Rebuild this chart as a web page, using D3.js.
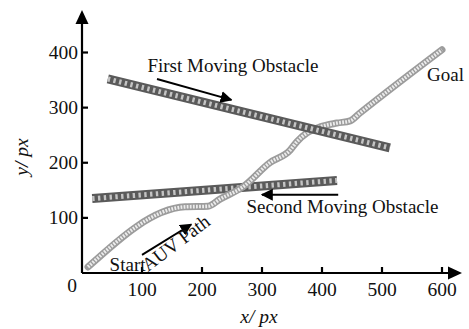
<!DOCTYPE html>
<html>
<head>
<meta charset="utf-8">
<script src="https://cdn.jsdelivr.net/npm/d3@7"></script>
<style>
  html, body { margin: 0; padding: 0; background: #fff; }
  svg text { font-family: 'Liberation Serif', 'DejaVu Serif', serif; fill: #111; }
</style>
</head>
<body>
<svg id="chart" width="469" height="329"></svg>
<script>
// tick values
const xTicks = [100, 200, 300, 400, 500, 600]
const yTicks = [100, 200, 300, 400]

// AUV path (x, y in px units)
const auvPath = [
  [10, 11], [172, 120], [210, 121], [230, 134], [268, 156], [313, 200],
  [347, 223], [358, 238], [375, 254], [397, 265], [425, 272], [447, 276],
  [463, 290], [600, 405]
]

// obstacle tracks, start -> end
const firstObstacle = [[43, 352], [513, 227]]
const secondObstacle = [[17, 135], [425, 168]]

// annotation arrows (from, to)
const arrows = [
  [[125, 352], [249, 314]],
  [[427, 142], [300, 142]],
  [[100, 33], [182, 88]]
]

// text labels
const labels = [
  { text: 'First Moving Obstacle', x: 109, y: 364, rot: 0 },
  { text: 'Goal', x: 575, y: 349, rot: 0 },
  { text: 'Second Moving Obstacle', x: 274, y: 108, rot: 0 },
  { text: 'Start', x: 46, y: 4, rot: 0 },
  { text: 'AUV Path', x: 110, y: 2, rot: -37 }
]

const svg = d3.select('#chart')

const x = d3.scaleLinear().domain([0, 600]).range([82, 442])
const y = d3.scaleLinear().domain([0, 400]).range([273, 52.5])

const defs = svg.append('defs')
defs.append('marker')
  .attr('id', 'arrowHead')
  .attr('viewBox', '0 0 10 10')
  .attr('refX', 9)
  .attr('refY', 5)
  .attr('markerWidth', 6)
  .attr('markerHeight', 6)
  .attr('markerUnits', 'strokeWidth')
  .attr('orient', 'auto')
  .append('path')
  .attr('d', 'M0,0 L10,5 L0,10 Z')
  .attr('fill', '#000')

const line = d3.line().x((d) => x(d[0])).y((d) => y(d[1]))
const smooth = d3.line().x((d) => x(d[0])).y((d) => y(d[1])).curve(d3.curveMonotoneX)

function obstacle(g, pts) {
  g.append('path').attr('d', line(pts))
    .attr('fill', 'none').attr('stroke', '#5a5a5a').attr('stroke-width', 9)
  g.append('path').attr('d', line(pts))
    .attr('fill', 'none').attr('stroke', '#c4c4c4').attr('stroke-width', 5)
    .attr('stroke-dasharray', '2.4 3.4')
}

// second obstacle under the path, first obstacle over it
obstacle(svg.append('g'), secondObstacle)

const auv = svg.append('g')
auv.append('path').attr('d', smooth(auvPath))
  .attr('fill', 'none').attr('stroke', '#9c9c9c').attr('stroke-width', 7)
  .attr('stroke-linejoin', 'round').attr('stroke-linecap', 'round')
auv.append('path').attr('d', smooth(auvPath))
  .attr('fill', 'none').attr('stroke', '#ececec').attr('stroke-width', 3.6)
  .attr('stroke-dasharray', '1.8 1.3')

obstacle(svg.append('g'), firstObstacle)

// axes
const axis = svg.append('g').attr('stroke', '#000').attr('stroke-width', 2.2)
axis.append('line').attr('x1', x(0)).attr('x2', x(600) + 8)
  .attr('y1', y(0)).attr('y2', y(0))
axis.append('line').attr('x1', x(0)).attr('x2', x(0))
  .attr('y1', y(0)).attr('y2', 22)
svg.append('path')
  .attr('d', `M${x(600) + 20},${y(0)} L${x(600) + 6},${y(0) - 6.5} L${x(600) + 6},${y(0) + 6.5} Z`)
  .attr('fill', '#000')
svg.append('path')
  .attr('d', `M${x(0)},10 L${x(0) - 6.5},24 L${x(0) + 6.5},24 Z`)
  .attr('fill', '#000')

axis.selectAll('.xt').data(xTicks).join('line')
  .attr('x1', (d) => x(d)).attr('x2', (d) => x(d))
  .attr('y1', y(0)).attr('y2', y(0) - 6)
axis.selectAll('.yt').data(yTicks).join('line')
  .attr('x1', x(0)).attr('x2', x(0) + 6)
  .attr('y1', (d) => y(d)).attr('y2', (d) => y(d))

svg.selectAll('.xl').data(xTicks).join('text')
  .attr('x', (d) => x(d)).attr('y', 296)
  .attr('text-anchor', 'middle').attr('font-size', 19.5)
  .text((d) => d)
svg.selectAll('.yl').data(yTicks).join('text')
  .attr('x', x(0) - 4).attr('y', (d) => y(d) + 6.5)
  .attr('text-anchor', 'end').attr('font-size', 19.5)
  .text((d) => d)
svg.append('text').attr('x', 72).attr('y', 292)
  .attr('text-anchor', 'middle').attr('font-size', 19.5).text('0')

svg.append('text').attr('x', 259).attr('y', 323)
  .attr('text-anchor', 'middle').attr('font-size', 19.5).attr('font-style', 'italic')
  .text('x/ px')
svg.append('text')
  .attr('transform', 'translate(28,157) rotate(-90)')
  .attr('text-anchor', 'middle').attr('font-size', 19.5).attr('font-style', 'italic')
  .text('y/ px')

// annotation arrows
svg.selectAll('.arrow').data(arrows).join('line')
  .attr('x1', (d) => x(d[0][0])).attr('y1', (d) => y(d[0][1]))
  .attr('x2', (d) => x(d[1][0])).attr('y2', (d) => y(d[1][1]))
  .attr('stroke', '#000').attr('stroke-width', 2)
  .attr('marker-end', 'url(#arrowHead)')

svg.selectAll('.lab').data(labels).join('text')
  .attr('transform', (d) => `translate(${x(d.x)},${y(d.y)}) rotate(${d.rot})`)
  .attr('font-size', 19)
  .text((d) => d.text)
</script>
</body>
</html>
